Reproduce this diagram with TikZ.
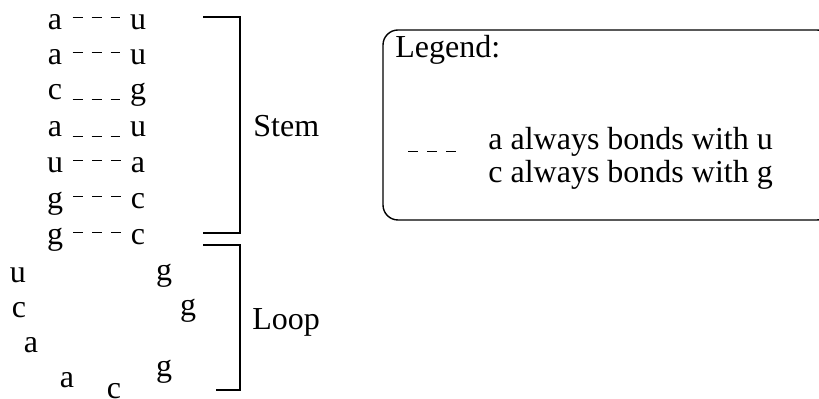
\documentclass[tikz,border=0pt]{standalone}
\usepackage{fontspec}
\setmainfont{Liberation Serif}
\usetikzlibrary{positioning}

\begin{document}
\begin{tikzpicture}
  [
    x = 0.5pt, y = -0.5pt,
    font = \fontsize{16}{19}\selectfont,
    base/.style = {anchor=base, inner xsep=5pt, inner ysep=0pt},
    label text/.style = {anchor=base west, inner sep=0pt},
    bond/.style = {line width=0.5pt, dash pattern=on 5pt off 4.5pt},
    bracket/.style = {line width=0.7pt},
    high/.style = {yshift=6pt},
  ]
  \useasboundingbox (0,0) rectangle (819,399);

  % stem, paired bases
  \node[base] (l1) at (55,30)  {a}; \node[base] (r1) at (138,30)  {u};
  \node[base] (l2) at (55,65)  {a}; \node[base] (r2) at (138,65)  {u};
  \node[base] (l3) at (55,100) {c}; \node[base] (r3) at (138,100) {g};
  \node[base] (l4) at (55,137) {a}; \node[base] (r4) at (138,137) {u};
  \node[base] (l5) at (55,173) {u}; \node[base] (r5) at (138,173) {a};
  \node[base] (l6) at (55,209) {g}; \node[base] (r6) at (138,209) {c};
  \node[base] (l7) at (55,245) {g}; \node[base] (r7) at (138,245) {c};

  \draw[bond] ([high]l1.base east) -- ([high]r1.base west);
  \draw[bond] ([high]l2.base east) -- ([high]r2.base west);
  \draw[bond] (l3.base east) -- (r3.base west);
  \draw[bond] (l4.base east) -- (r4.base west);
  \draw[bond] ([high]l5.base east) -- ([high]r5.base west);
  \draw[bond] ([high]l6.base east) -- ([high]r6.base west);
  \draw[bond] ([high]l7.base east) -- ([high]r7.base west);

  % loop, unpaired bases
  \node[base] (loop1) at (18,283)  {u};
  \node[base] (loop2) at (19,318)  {c};
  \node[base] (loop3) at (31,353)  {a};
  \node[base] (loop4) at (67,388)  {a};
  \node[base] (loop5) at (114,399) {c};
  \node[base] (loop6) at (164,377) {g};
  \node[base] (loop7) at (188,316) {g};
  \node[base] (loop8) at (164,281) {g};

  % brackets
  \draw[bracket] (203,17) -- (240,17) -- (240,233) -- (203,233);
  \draw[bracket] (203,245) -- (240,245) -- (240,390) -- (216,390);
  \node[label text] (stem) at (253,137) {Stem};
  \node[label text] (loop) at (252,330) {Loop};

  % legend
  \draw[bracket, rounded corners=7.5pt] (383,30) rectangle (832,220);
  \node[label text] (legend) at (395,58) {Legend:};
  \coordinate (key start) at (408,152);
  \coordinate (key end)   at (456,152);
  \draw[bond] (key start) -- (key end);
  \node[label text] (au) at (488,150) {a always bonds with u};
  \node[label text] (cg) at (488,183) {c always bonds with g};

\end{tikzpicture}
\end{document}
